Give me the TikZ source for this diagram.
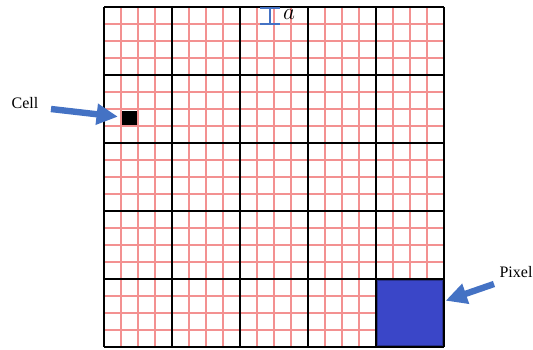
\documentclass[tikz,border=0pt]{standalone}
\usepackage{fontspec}
\setmainfont{Liberation Serif}
\usetikzlibrary{arrows.meta,positioning}
\definecolor{arrowblue}{RGB}{68,114,196}
\definecolor{pixblue}{RGB}{58,70,200}
\definecolor{gridred}{RGB}{243,145,145}
\begin{document}
\begin{tikzpicture}[
    x=0.75pt, y=-0.75pt,
    font=\fontsize{12}{14}\selectfont,
    subline/.style={gridred, line width=0.8pt},
    cellline/.style={black, line width=1.6pt},
    callout/.style={arrowblue, line width=4.8pt, -{Triangle[length=16pt,width=15pt]}},
    tag/.style={inner sep=1pt}
]
\useasboundingbox (0,0) rectangle (533,350);
% fine grid (cells)
\foreach \i in {0,...,20} {
    \draw[subline] ({104+17*\i},7) -- ({104+17*\i},347);
    \draw[subline] (104,{7+17*\i}) -- (444,{7+17*\i});
}
% one pixel and one cell
\node[fill=pixblue, draw=pixblue!70!black, line width=0.6pt, minimum size=49pt, inner sep=0pt] (pixbox) at (410,313) {};
\node[fill=black, minimum size=11pt, inner sep=0pt] (cellbox) at (129.5,118) {};
% coarse grid (pixels)
\foreach \i in {0,...,5} {
    \draw[cellline] ({104+68*\i},7) -- ({104+68*\i},347);
    \draw[cellline] (104,{7+68*\i}) -- (444,{7+68*\i});
}
% cell size a
\coordinate (atop) at (270,8);
\coordinate (abot) at (270,24);
\draw[arrowblue, line width=0.8pt] (atop) -- (abot);
\draw[arrowblue, line width=0.8pt] ([xshift=-7.5pt]atop) -- ([xshift=7.5pt]atop);
\draw[arrowblue, line width=0.8pt] ([xshift=-7.5pt]abot) -- ([xshift=7.5pt]abot);
\node[font=\fontsize{19}{21}\selectfont] (alabel) at (289,15) {$a$};
% labels and arrows
\node[tag] (celltxt) at (25,103) {Cell};
\node[tag] (pixtxt) at (516,272) {Pixel};
\coordinate (celltail) at (51,109);
\coordinate (pixtail) at (494,284);
\draw[callout, shorten >=3pt] (celltail) -- (cellbox);
\draw[callout, shorten >=2pt] (pixtail) -- (pixbox);
\end{tikzpicture}
\end{document}
